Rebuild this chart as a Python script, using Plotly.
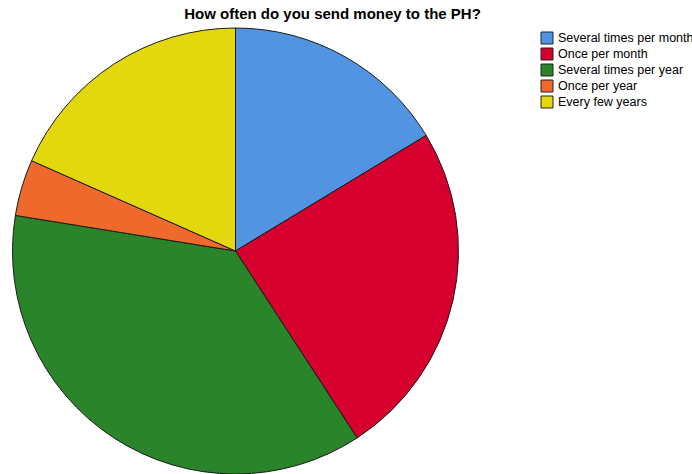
import plotly.graph_objects as go

# Survey responses: how often money is sent home
categories = [
    "Several times per month",
    "Once per month",
    "Several times per year",
    "Once per year",
    "Every few years",
]
counts = [8, 12, 18, 2, 9]
colors = ["#5294E2", "#D6002F", "#2A8429", "#F0692C", "#E3D80E"]

W, H = 692, 474
TOP = 28
radius = 223
cx = 235.5

fig = go.Figure(
    go.Pie(
        labels=categories,
        values=counts,
        sort=False,
        direction="clockwise",
        rotation=0,
        marker=dict(colors=colors, line=dict(color="#1a1a1a", width=1)),
        textinfo="none",
        hoverinfo="label+value+percent",
        showlegend=False,
        domain=dict(x=[(cx - radius) / W, (cx + radius) / W], y=[0, 1]),
    )
)


def py(pixel_y):
    """Convert a pixel row from the top of the figure to paper y."""
    return 1 - (pixel_y - TOP) / (H - TOP)


# Legend drawn as swatches with labels, compact row spacing
sw_x0, sw_size, row0, row_gap, text_x = 541, 12, 32, 16, 556
shapes, annotations = [], []
for i, (lab, col) in enumerate(zip(categories, colors)):
    top = row0 + i * row_gap
    shapes.append(
        dict(
            type="rect",
            xref="paper", yref="paper",
            x0=sw_x0 / W, x1=(sw_x0 + sw_size) / W,
            y0=py(top), y1=py(top + sw_size),
            fillcolor=col,
            line=dict(color="#222222", width=1),
        )
    )
    annotations.append(
        dict(
            text=lab,
            xref="paper", yref="paper",
            x=text_x / W, y=py(top + sw_size / 2),
            xanchor="left", yanchor="middle",
            showarrow=False,
            font=dict(size=12.5, color="#000000"),
        )
    )

fig.update_layout(
    width=W,
    height=H,
    margin=dict(l=0, r=0, t=TOP, b=0),
    paper_bgcolor="white",
    plot_bgcolor="white",
    font=dict(family="Liberation Sans, Arial, sans-serif", color="#000000"),
    title=dict(
        text="<b>How often do you send money to the PH?</b>",
        x=332.5 / W,
        xanchor="center",
        y=1 - 14 / H,
        yanchor="middle",
        font=dict(size=15, color="#000000"),
    ),
    shapes=shapes,
    annotations=annotations,
    showlegend=False,
)

fig.write_html("out.html")
